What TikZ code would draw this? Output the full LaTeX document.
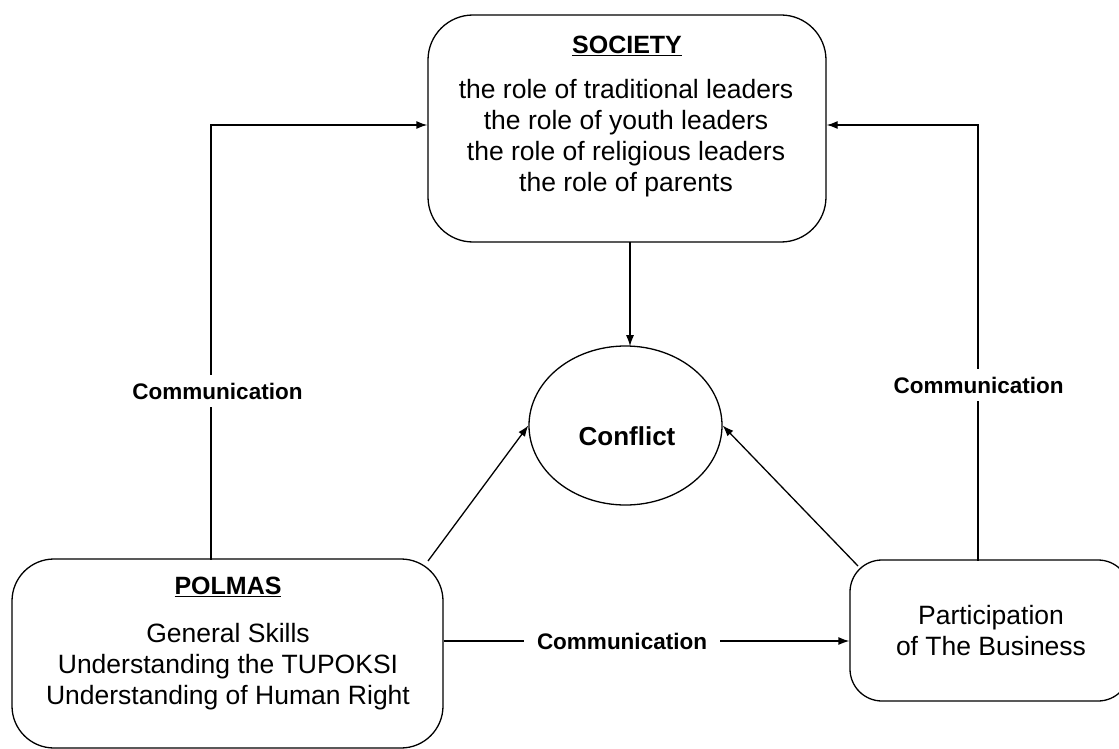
\documentclass[tikz,border=0pt]{standalone}
\usepackage{fontspec}
\setmainfont{Liberation Sans}
\usetikzlibrary{shapes.geometric,arrows.meta}
\begin{document}
\begin{tikzpicture}[x=1pt,y=-1pt,
  box/.style={draw, line width=1.3pt, rounded corners=#1, inner sep=0pt},
  txt/.style={font=\fontsize{26.5}{31}\selectfont, align=center, inner sep=0pt},
  ttl/.style={font=\fontsize{25}{30}\selectfont\bfseries, inner sep=0pt},
  lbl/.style={font=\fontsize{22.5}{26}\selectfont\bfseries, fill=white, inner xsep=13pt, inner ysep=8pt},
  conn/.style={line width=1.3pt, -{Latex[length=11pt,width=8pt]}},
  plain/.style={line width=1.3pt}]
\useasboundingbox (0,0) rectangle (1119,749);
\clip (0,0) rectangle (1119,749);
% boxes
\node[box=45pt, minimum width=398pt, minimum height=227pt] (soc) at (627,128.5) {};
\node[box=42pt, minimum width=431pt, minimum height=189pt] (pol) at (227.5,653.5) {};
\node[box=32pt, minimum width=280pt, minimum height=141pt] (par) at (990,630.5) {};
\node[draw, line width=1.3pt, ellipse, minimum width=193pt, minimum height=159pt, inner sep=0pt] (con) at (625.5,425.5) {};
% texts
\node[ttl] (socT) at (627,46) {\underline{SOCIETY}};
\node[txt] (socL) at (626,138) {the role of traditional leaders\\the role of youth leaders\\the role of religious leaders\\the role of parents};
\node[ttl] (polT) at (228,587) {\underline{POLMAS}};
\node[txt] (polL) at (228,667) {General Skills\\Understanding the TUPOKSI\\Understanding of Human Right};
\node[txt] (parL) at (991,631) {Participation\\of The Business};
\node[font=\fontsize{26}{30}\selectfont\bfseries, inner sep=0pt] (conT) at (627,436) {Conflict};
% corner coordinates
\coordinate (lb) at (211,559.5);
\coordinate (lt) at (211,125);
\coordinate (rb) at (978,560.5);
\coordinate (rt) at (978,125);
\coordinate (pc) at (428,561);
\coordinate (qc) at (858,566);
\coordinate (sc) at (630,242);
\coordinate (ct) at (630,346.2);
% connectors
\draw[conn] (lb) -- (lt) -- (lt -| soc.west);
\draw[conn] (rb) -- (rt) -- (rt -| soc.east);
\draw[conn] (sc) -- (ct);
\draw[conn] (pc) -- (con.west);
\draw[conn] (qc) -- (con.east);
\draw[conn] (pol.east |- 0,641) -- (par.west |- 0,641);
% labels
\node[lbl] (c1) at (217.5,391) {Communication};
\node[lbl] (c2) at (978.5,385) {Communication};
\node[lbl] (c3) at (622,641) {Communication};
\end{tikzpicture}
\end{document}
